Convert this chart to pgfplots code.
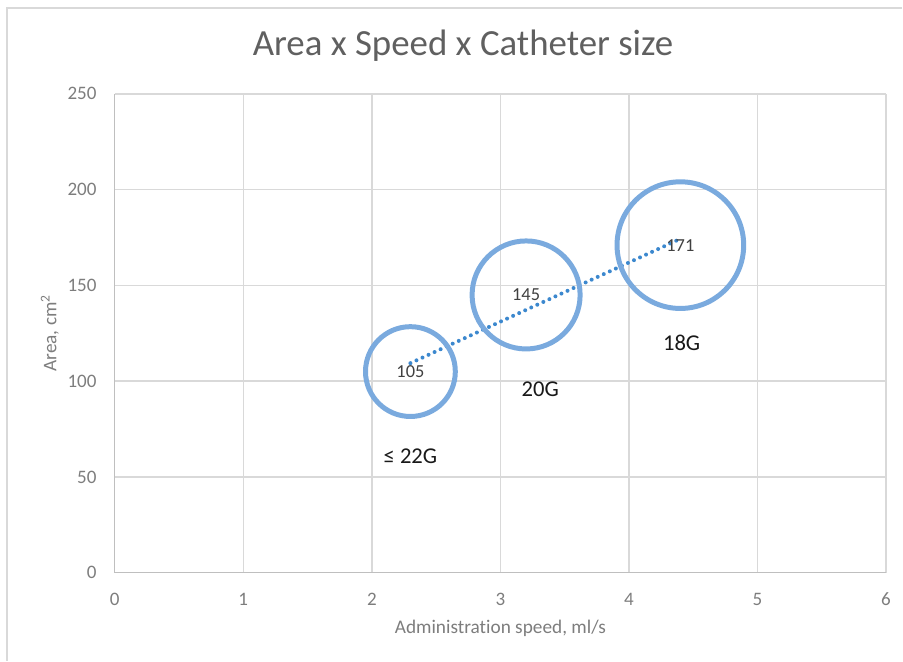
\documentclass[border=0pt]{standalone}
\usepackage{fontspec}
\setmainfont[Ligatures=NoCommon]{Carlito}
\usepackage{pgfplots}
\pgfplotsset{compat=1.18}
\definecolor{bub}{RGB}{122,170,222}
\definecolor{trend}{RGB}{60,136,206}
\definecolor{gridc}{RGB}{217,217,217}
\definecolor{axc}{RGB}{191,191,191}
\definecolor{tickc}{RGB}{125,125,125}
\definecolor{titc}{RGB}{96,96,96}
\definecolor{labc}{RGB}{64,64,64}
\begin{document}
\begin{tikzpicture}[x=1pt,y=1pt]
\path (-86.25,-65.25) rectangle (591,430.5);
\draw[gridc, line width=1pt] (-81,-66) -- (-81,424.5) -- (592,424.5);
\begin{axis}[at={(0,0)}, anchor=south west, scale only axis,
  width=579.75pt, height=360pt,
  xmin=0, xmax=6, ymin=0, ymax=250,
  xtick={0,1,2,3,4,5,6}, ytick={0,50,100,150,200,250},
  axis x line=bottom, axis y line=left,
  axis line style={axc, line width=1.1pt, -},
  grid=major, major grid style={gridc, line width=1.1pt},
  major tick length=0pt,
  /pgf/number format/assume math mode=true,
  tick label style={font=\fontsize{14.3}{16}\selectfont, text=tickc},
  xticklabel style={anchor=center, yshift=-20pt},
  yticklabel style={anchor=east, inner sep=0pt, xshift=-13.5pt},
  xlabel={Administration speed, ml/s},
  ylabel={Area, cm\textsuperscript{2}},
  label style={font=\fontsize{14.5}{16}\selectfont, text=tickc},
  xlabel style={at={(axis description cs:0.5,-0.1167)}, anchor=center},
  ylabel style={at={(axis description cs:-0.0841,0.5)}, anchor=center},
  clip=false,
  nodes near coords,
  point meta=explicit symbolic,
  every node near coord/.append style={anchor=center, font=\fontsize{13.8}{15}\selectfont, text=labc},
]
\addplot[only marks, mark=o, mark size=33.75pt, mark options={draw=bub, line width=3.75pt}]
  coordinates {(2.3,105) [105]};
\addplot[only marks, mark=o, mark size=40.6pt, mark options={draw=bub, line width=3.75pt}]
  coordinates {(3.2,145) [145]};
\addplot[only marks, mark=o, mark size=47.6pt, mark options={draw=bub, line width=3.75pt}]
  coordinates {(4.4,171) [171]};
\addplot[trend, line width=3pt, line cap=round, dash pattern=on 0pt off 5pt, nodes near coords={}]
  coordinates {(2.3,109.4) (4.4,174.3)};
\node[font=\fontsize{17}{19}\selectfont, text=black!90] at (axis cs:2.3,61) {≤ 22G};
\node[font=\fontsize{17}{19}\selectfont, text=black!90] at (axis cs:3.31,96) {20G};
\node[font=\fontsize{17}{19}\selectfont, text=black!90] at (axis cs:4.41,120) {18G};
\end{axis}
\node[font=\fontsize{27.7}{30}\selectfont, text=titc, anchor=base] at (261.75,388.5) {Area x Speed x Catheter size};
\end{tikzpicture}
\end{document}
